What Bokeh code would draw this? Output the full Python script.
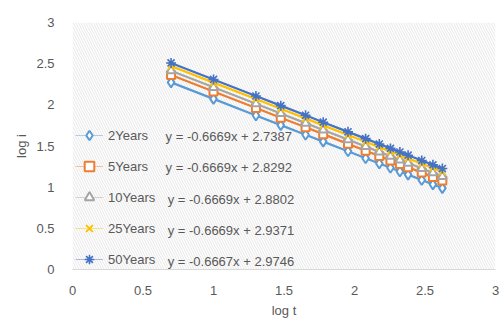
from bokeh.plotting import figure
from bokeh.models import (Legend, LegendItem, Label, BoxAnnotation, FixedTicker)
from bokeh.embed import file_html
from bokeh.resources import INLINE

# ---- data ----
log_t = [0.699, 1.0, 1.301, 1.477, 1.653, 1.778, 1.954, 2.079, 2.176, 2.255, 2.322, 2.380, 2.477, 2.556, 2.623]
y_2 = [2.273, 2.072, 1.871, 1.754, 1.636, 1.553, 1.436, 1.352, 1.288, 1.235, 1.190, 1.152, 1.087, 1.034, 0.989]
y_5 = [2.363, 2.162, 1.962, 1.844, 1.727, 1.644, 1.526, 1.443, 1.378, 1.325, 1.281, 1.242, 1.177, 1.125, 1.080]
y_10 = [2.414, 2.213, 2.013, 1.895, 1.778, 1.695, 1.577, 1.494, 1.429, 1.376, 1.332, 1.293, 1.228, 1.176, 1.131]
y_25 = [2.471, 2.270, 2.070, 1.952, 1.835, 1.751, 1.634, 1.551, 1.486, 1.433, 1.389, 1.350, 1.285, 1.233, 1.188]
y_50 = [2.509, 2.308, 2.107, 1.990, 1.873, 1.789, 1.672, 1.589, 1.524, 1.471, 1.427, 1.388, 1.323, 1.271, 1.226]

series_names = ["2Years", "5Years", "10Years", "25Years", "50Years"]
equations = ["y = -0.6669x + 2.7387", "y = -0.6669x + 2.8292", "y = -0.6669x + 2.8802",
             "y = -0.6669x + 2.9371", "y = -0.6667x + 2.9746"]
tick_values = [0, 0.5, 1, 1.5, 2, 2.5, 3]
tick_labels = ["0", "0.5", "1", "1.5", "2", "2.5", "3"]

colors = ["#5B9BD5", "#ED7D31", "#A5A5A5", "#FFC000", "#4472C4"]
markers = ["diamond", "square", "triangle", "x", "asterisk"]
msizes = [10, 8, 9, 9, 10]
FONT = "Liberation Sans"
GRAY = "#595959"
FS = "13px"
NAN = float("nan")

p = figure(width=502, height=320, output_backend="svg", toolbar_location=None,
           x_range=(0, 3), y_range=(0, 3),
           min_border_left=72, min_border_right=7, min_border_top=22, min_border_bottom=50)
p.outline_line_color = None
p.background_fill_color = "white"
p.border_fill_color = "white"
p.xgrid.grid_line_color = None
p.ygrid.grid_line_color = None

# hatched plot area
p.add_layout(BoxAnnotation(fill_alpha=0, line_color=None, hatch_pattern="\\",
                           hatch_color="#d4d4d4", hatch_scale=5, hatch_weight=1,
                           hatch_alpha=0.55, level="underlay"))

ys = [y_2, y_5, y_10, y_25, y_50]
items = []
for name, yv, c, m, s in zip(series_names, ys, colors, markers, msizes):
    p.line(log_t, yv, line_color=c, line_width=2.25)
    fill = "white" if m in ("diamond", "square", "triangle") else c
    lw = 2 if m != "asterisk" else 1.6
    p.scatter(log_t, yv, marker=m, size=s, line_color=c, fill_color=fill, line_width=lw)
    # legend sample: thin pale line plus the marker (no visible data)
    lg_ln = p.line([NAN, NAN], [NAN, NAN], line_color=c, line_width=1, line_alpha=0.45)
    lg_sc = p.scatter([NAN], [NAN], marker=m, size=s, line_color=c, fill_color=fill, line_width=lw)
    items.append(LegendItem(label=name, renderers=[lg_ln, lg_sc]))

legend = Legend(items=items, location=(3, -2), padding=0, margin=0, spacing=7,
                glyph_width=28, glyph_height=24, label_height=24, label_standoff=5,
                background_fill_alpha=0, border_line_color=None,
                label_text_font=FONT, label_text_font_size=FS, label_text_color=GRAY)
p.add_layout(legend, "center")

eq_x = [0.66, 0.66, 0.675, 0.675, 0.675]
eq_y = [1.614, 1.240, 0.853, 0.478, 0.103]
for ex, ey, eq in zip(eq_x, eq_y, equations):
    p.add_layout(Label(x=ex, y=ey, text=eq, text_font=FONT, text_font_size=FS,
                       text_color=GRAY, text_baseline="middle", text_align="left"))

for ax in (p.xaxis[0], p.yaxis[0]):
    ax.ticker = FixedTicker(ticks=tick_values)
    ax.major_label_overrides = {v: l for v, l in zip(tick_values, tick_labels)}
    ax.major_tick_line_color = None
    ax.minor_tick_line_color = None
    ax.major_label_text_font = FONT
    ax.major_label_text_font_size = FS
    ax.major_label_text_color = GRAY
    ax.axis_label_text_font = FONT
    ax.axis_label_text_font_size = FS
    ax.axis_label_text_color = GRAY
    ax.axis_label_text_font_style = "normal"

p.xaxis.axis_label = "log t"
p.yaxis.axis_label = "log i"
p.xaxis.axis_line_color = "#d9d9d9"
p.yaxis.axis_line_color = None
p.xaxis.major_label_standoff = 10
p.xaxis.axis_label_standoff = 5
p.yaxis.major_label_standoff = 12
p.yaxis.axis_label_standoff = 4

open("out.html", "w").write(file_html(p, INLINE))
